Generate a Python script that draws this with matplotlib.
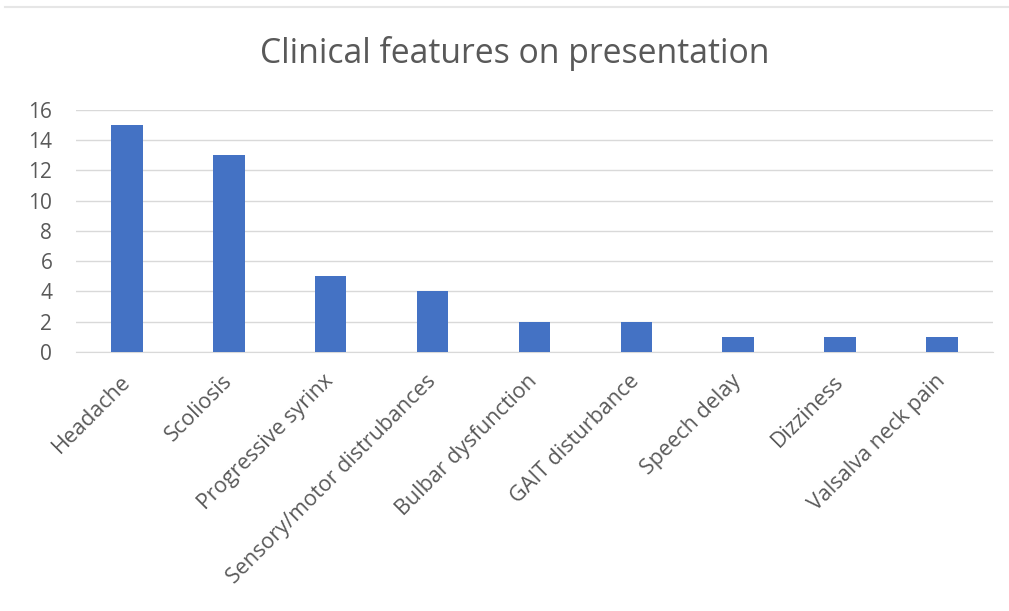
import numpy as np
import matplotlib.pyplot as plt
from matplotlib.lines import Line2D

# data
features = ["Headache", "Scoliosis", "Progressive syrinx", "Sensory/motor distrubances",
            "Bulbar dysfunction", "GAIT disturbance", "Speech delay", "Dizziness",
            "Valsalva neck pain"]
counts = [15, 13, 5, 4, 2, 2, 1, 1, 1]
y_ticks = [0, 2, 4, 6, 8, 10, 12, 14, 16]

plt.rcParams['font.family'] = ['Open Sans', 'DejaVu Sans']
text_col = '#595959'
grid_col = '#d9d9d9'

fig = plt.figure(figsize=(10.09, 6.11), dpi=100)
ax = fig.add_axes([0.0753, 0.424, 0.9087, 0.396])

x = np.arange(len(features))
ax.bar(x, counts, width=0.31, color='#4472c4', zorder=3)

ax.set_xlim(-0.5, len(features) - 0.5)
ax.set_ylim(0, 16)
ax.set_yticks(y_ticks)
ax.yaxis.grid(True, color=grid_col, linewidth=1, zorder=0)
ax.tick_params(axis='y', length=0, labelsize=15, colors=text_col, pad=17)
ax.tick_params(axis='x', length=0, pad=19)
ax.set_xticks(x)
ax.set_xticklabels(features, rotation=45, ha='right', va='center', rotation_mode='anchor',
                   fontsize=15.5, color=text_col)
for s in ['top', 'right', 'left']:
    ax.spines[s].set_visible(False)
ax.spines['bottom'].set_color(grid_col)

fig.text(0.51, 0.913, "Clinical features on presentation", ha='center', va='center',
         fontsize=24.3, color=text_col)

# thin border line at the top of the picture
fig.add_artist(Line2D([0.005, 1.0], [0.989, 0.989], color='#e6e6e6', linewidth=1.5,
                      transform=fig.transFigure))

plt.savefig("out.png", dpi=100)
